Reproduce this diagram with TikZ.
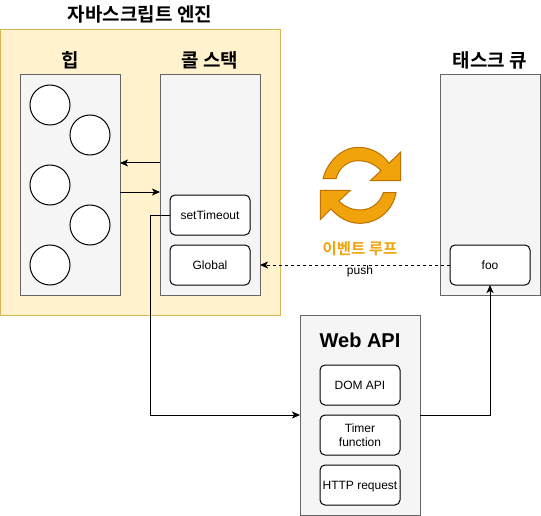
\documentclass[tikz,border=0pt]{standalone}
\usepackage{fontspec}
\setmainfont{Liberation Sans}
\newfontfamily\krfont{Noto Sans CJK KR}[BoldFont=* Bold]
\usetikzlibrary{arrows.meta,positioning}

\definecolor{panelfill}{HTML}{F5F5F5}
\definecolor{panelline}{HTML}{666666}
\definecolor{enginefill}{HTML}{FFF2CC}
\definecolor{engineline}{HTML}{D6B656}
\definecolor{loopfill}{HTML}{F0A30A}
\definecolor{loopline}{HTML}{BD7000}

\begin{document}
\begin{tikzpicture}[x=1pt,y=-1pt,line width=1pt,>={Stealth[length=8pt,width=7pt,inset=2pt]}]
\tikzstyle{every node}=[font=\fontsize{12}{14.5}\selectfont,outer sep=0pt,inner sep=0pt]
\tikzstyle{panel}=[draw=panelline,fill=panelfill,minimum width=100pt,minimum height=220pt]
\tikzstyle{task}=[draw=black,fill=white,rounded corners=5pt,minimum width=80pt,minimum height=40pt,align=center,text depth=0pt]
\tikzstyle{ball}=[draw=black,fill=white,circle,minimum size=40pt]
\tikzstyle{title}=[font=\krfont\bfseries\fontsize{19}{22}\selectfont]
\useasboundingbox (0,0) rectangle (541,516);

\node[draw=engineline,fill=enginefill,minimum width=280pt,minimum height=285pt] (engine) at (140,172.5) {};
\node[title] (enginetitle) at (140,14) {자바스크립트 엔진};

\node[panel] (heap) at (70,185) {};
\node[panel] (stack) at (210,185) {};
\node[panel] (queue) at (490,185) {};
\node[title] (heaptitle) at (70,60) {힙};
\node[title] (stacktitle) at (210,60) {콜 스택};
\node[title] (queuetitle) at (490,60) {태스크 큐};

\node[ball] (ballA) at (50,105) {};
\node[ball] (ballB) at (90,135) {};
\node[ball] (ballC) at (50,185) {};
\node[ball] (ballD) at (90,225) {};
\node[ball] (ballE) at (50,265) {};

\node[task] (timeout) at (210,215) {setTimeout};
\node[task] (global) at (210,265) {Global};
\node[task] (foo) at (490,265) {foo};

\node[draw=panelline,fill=panelfill,minimum width=120pt,minimum height=200pt] (webapi) at (360,415) {};
\node[font=\bfseries\fontsize{20}{24}\selectfont] (webtitle) at (360,340) {Web API};
\node[task] (dom) at (360,385) {DOM API};
\node[task] (timer) at (360,435) {Timer\\function};
\node[task] (http) at (360,485) {HTTP request};

% event loop icon
\draw[fill=loopfill,draw=loopline] (323,178.7) .. controls (328,160) and (343,147.3) .. (358.3,147.3) .. controls (370,147.3) and (382,153) .. (389,163.3) -- (400.7,152) -- (400.7,180.7) -- (370.3,180.7) -- (381,170.7) .. controls (375,164) and (367,160.7) .. (358.3,160.7) .. controls (347,160.7) and (339,168) .. (336,178.7) -- cycle;
\draw[fill=loopfill,draw=loopline] (396,192.7) .. controls (393,210) and (378,223.3) .. (360,223.3) .. controls (348,223.3) and (338,217) .. (331,209) -- (320.3,219.7) -- (320.3,190.3) -- (350.3,190.3) -- (339,201) .. controls (344,206.5) and (352,210) .. (360,210) .. controls (371,210) and (380,203) .. (383.3,192.7) -- cycle;
\node[font=\krfont\bfseries\fontsize{15.5}{18}\selectfont,text=loopfill] (looptitle) at (360,249) {이벤트 루프};

\draw[->] (stack.west |- 0,163) -- (heap.east |- 0,163);
\draw[->] (heap.east |- 0,192) -- (stack.west |- 0,192);
\draw[->] (timeout.west) -- (150,215) -- (150,415) -- (webapi.west);
\draw[->] (webapi.east) -- (490,415) -- (foo.south);
\draw[->,dashed] (foo.west) -- (stack.east |- foo.west);
\node (pushlabel) at (360,271) {push};
\end{tikzpicture}
\end{document}
